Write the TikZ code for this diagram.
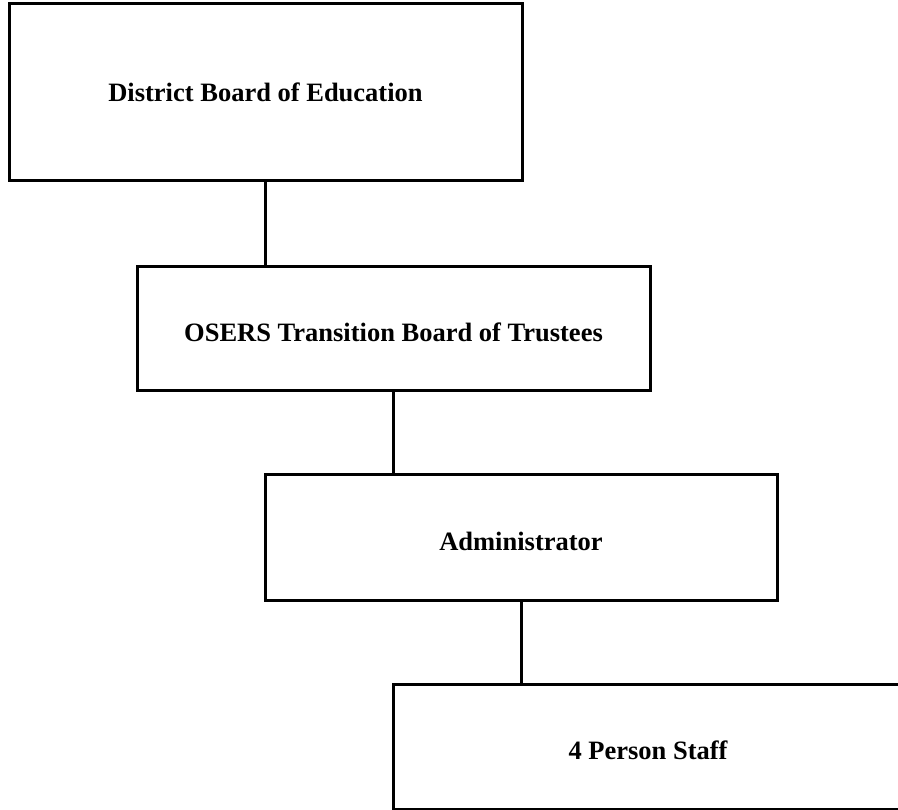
\documentclass[tikz,border=0pt]{standalone}
\usepackage{fontspec}
\setmainfont{Liberation Serif}

\begin{document}
\begin{tikzpicture}[x=1pt,y=-1pt,font=\bfseries\fontsize{26.5}{30}\selectfont,
  post/.style={draw,line width=3pt,inner sep=0pt,outer sep=0pt,text height=25.5pt,text depth=0pt},
  link/.style={line width=3pt}]
\useasboundingbox (0,0) rectangle (898,810);

\node[post,minimum width=513pt,minimum height=177pt,text height=18.4pt] (board) at (265.5,92.5) {District Board of Education};
\node[post,minimum width=513pt,minimum height=124pt] (osers) at (393.5,329) {OSERS Transition Board of Trustees};
\node[post,minimum width=512pt,minimum height=125pt] (admin) at (521,537.5) {Administrator};
\node[post,minimum width=510pt,minimum height=125pt] (staff) at (648,746.5) {4 Person Staff};

\draw[link] (board.south) -- (board.south |- osers.north);
\draw[link] (osers.south) -- (osers.south |- admin.north);
\draw[link] (admin.south) -- (admin.south |- staff.north);

\end{tikzpicture}
\end{document}
